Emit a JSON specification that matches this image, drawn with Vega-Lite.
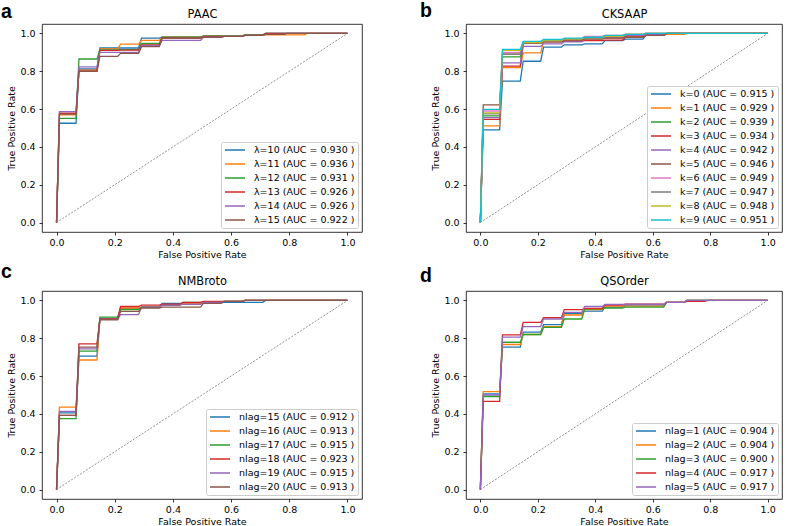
{
"$schema":"https://vega.github.io/schema/vega-lite/v6.json",
"background":"white",
"padding":{"left":0,"top":0,"right":0,"bottom":0},
"config":{
 "font":"DejaVu Sans",
 "view":{"stroke":"#000","strokeWidth":0.8},
 "axis":{"grid":false,"domain":false,"tickColor":"#000","tickSize":3,"tickWidth":0.8,"labelFont":"DejaVu Sans","labelFontSize":9.5,"labelColor":"#000","titleFont":"DejaVu Sans","titleFontSize":9.5,"titleFontWeight":"normal","titleColor":"#000"},
 "axisX":{"labelPadding":2.5,"titlePadding":2},
 "axisY":{"labelPadding":4,"titlePadding":3},
 "legend":{"orient":"bottom-right","offset":4,"padding":3,"fillColor":"#ffffff","strokeColor":"#cccccc","cornerRadius":2,"symbolType":"M-1,0H4","symbolSize":64,"symbolStrokeWidth":1.5,"labelFont":"DejaVu Sans","labelFontSize":9.5,"labelColor":"#000","labelOffset":20,"rowPadding":4,"labelLimit":300}
},
"datasets":{
"diag":[{"x":0,"y":0},{"x":1,"y":1}],
"pa":[
{"s":"λ=10 (AUC = 0.930 )","x":0,"y":0},{"s":"λ=10 (AUC = 0.930 )","x":0.01,"y":0.525},{"s":"λ=10 (AUC = 0.930 )","x":0.067,"y":0.525},{"s":"λ=10 (AUC = 0.930 )","x":0.077,"y":0.812},{"s":"λ=10 (AUC = 0.930 )","x":0.139,"y":0.812},{"s":"λ=10 (AUC = 0.930 )","x":0.149,"y":0.923},{"s":"λ=10 (AUC = 0.930 )","x":0.282,"y":0.923},{"s":"λ=10 (AUC = 0.930 )","x":0.292,"y":0.975},{"s":"λ=10 (AUC = 0.930 )","x":0.353,"y":0.975},{"s":"λ=10 (AUC = 0.930 )","x":0.363,"y":0.98},{"s":"λ=10 (AUC = 0.930 )","x":0.495,"y":0.98},{"s":"λ=10 (AUC = 0.930 )","x":0.505,"y":0.985},{"s":"λ=10 (AUC = 0.930 )","x":0.638,"y":0.985},{"s":"λ=10 (AUC = 0.930 )","x":0.648,"y":0.993},{"s":"λ=10 (AUC = 0.930 )","x":0.709,"y":0.993},{"s":"λ=10 (AUC = 0.930 )","x":0.719,"y":1},{"s":"λ=10 (AUC = 0.930 )","x":1,"y":1},
{"s":"λ=11 (AUC = 0.936 )","x":0,"y":0},{"s":"λ=11 (AUC = 0.936 )","x":0.01,"y":0.569},{"s":"λ=11 (AUC = 0.936 )","x":0.067,"y":0.569},{"s":"λ=11 (AUC = 0.936 )","x":0.077,"y":0.806},{"s":"λ=11 (AUC = 0.936 )","x":0.139,"y":0.806},{"s":"λ=11 (AUC = 0.936 )","x":0.149,"y":0.918},{"s":"λ=11 (AUC = 0.936 )","x":0.21,"y":0.918},{"s":"λ=11 (AUC = 0.936 )","x":0.22,"y":0.944},{"s":"λ=11 (AUC = 0.936 )","x":0.282,"y":0.944},{"s":"λ=11 (AUC = 0.936 )","x":0.292,"y":0.963},{"s":"λ=11 (AUC = 0.936 )","x":0.353,"y":0.963},{"s":"λ=11 (AUC = 0.936 )","x":0.363,"y":0.98},{"s":"λ=11 (AUC = 0.936 )","x":0.495,"y":0.98},{"s":"λ=11 (AUC = 0.936 )","x":0.505,"y":0.985},{"s":"λ=11 (AUC = 0.936 )","x":0.638,"y":0.985},{"s":"λ=11 (AUC = 0.936 )","x":0.648,"y":0.993},{"s":"λ=11 (AUC = 0.936 )","x":0.852,"y":0.993},{"s":"λ=11 (AUC = 0.936 )","x":0.862,"y":1},{"s":"λ=11 (AUC = 0.936 )","x":1,"y":1},
{"s":"λ=12 (AUC = 0.931 )","x":0,"y":0},{"s":"λ=12 (AUC = 0.931 )","x":0.01,"y":0.551},{"s":"λ=12 (AUC = 0.931 )","x":0.067,"y":0.551},{"s":"λ=12 (AUC = 0.931 )","x":0.077,"y":0.865},{"s":"λ=12 (AUC = 0.931 )","x":0.139,"y":0.865},{"s":"λ=12 (AUC = 0.931 )","x":0.149,"y":0.913},{"s":"λ=12 (AUC = 0.931 )","x":0.21,"y":0.913},{"s":"λ=12 (AUC = 0.931 )","x":0.22,"y":0.915},{"s":"λ=12 (AUC = 0.931 )","x":0.282,"y":0.915},{"s":"λ=12 (AUC = 0.931 )","x":0.292,"y":0.947},{"s":"λ=12 (AUC = 0.931 )","x":0.353,"y":0.947},{"s":"λ=12 (AUC = 0.931 )","x":0.363,"y":0.98},{"s":"λ=12 (AUC = 0.931 )","x":0.495,"y":0.98},{"s":"λ=12 (AUC = 0.931 )","x":0.505,"y":0.987},{"s":"λ=12 (AUC = 0.931 )","x":0.638,"y":0.987},{"s":"λ=12 (AUC = 0.931 )","x":0.648,"y":0.993},{"s":"λ=12 (AUC = 0.931 )","x":0.709,"y":0.993},{"s":"λ=12 (AUC = 0.931 )","x":0.719,"y":1},{"s":"λ=12 (AUC = 0.931 )","x":1,"y":1},
{"s":"λ=13 (AUC = 0.926 )","x":0,"y":0},{"s":"λ=13 (AUC = 0.926 )","x":0.01,"y":0.578},{"s":"λ=13 (AUC = 0.926 )","x":0.067,"y":0.578},{"s":"λ=13 (AUC = 0.926 )","x":0.077,"y":0.8},{"s":"λ=13 (AUC = 0.926 )","x":0.139,"y":0.8},{"s":"λ=13 (AUC = 0.926 )","x":0.149,"y":0.91},{"s":"λ=13 (AUC = 0.926 )","x":0.21,"y":0.91},{"s":"λ=13 (AUC = 0.926 )","x":0.22,"y":0.912},{"s":"λ=13 (AUC = 0.926 )","x":0.282,"y":0.912},{"s":"λ=13 (AUC = 0.926 )","x":0.292,"y":0.94},{"s":"λ=13 (AUC = 0.926 )","x":0.353,"y":0.94},{"s":"λ=13 (AUC = 0.926 )","x":0.363,"y":0.975},{"s":"λ=13 (AUC = 0.926 )","x":0.495,"y":0.975},{"s":"λ=13 (AUC = 0.926 )","x":0.505,"y":0.985},{"s":"λ=13 (AUC = 0.926 )","x":0.638,"y":0.985},{"s":"λ=13 (AUC = 0.926 )","x":0.648,"y":0.99},{"s":"λ=13 (AUC = 0.926 )","x":0.709,"y":0.99},{"s":"λ=13 (AUC = 0.926 )","x":0.719,"y":1},{"s":"λ=13 (AUC = 0.926 )","x":1,"y":1},
{"s":"λ=14 (AUC = 0.926 )","x":0,"y":0},{"s":"λ=14 (AUC = 0.926 )","x":0.01,"y":0.587},{"s":"λ=14 (AUC = 0.926 )","x":0.067,"y":0.587},{"s":"λ=14 (AUC = 0.926 )","x":0.077,"y":0.823},{"s":"λ=14 (AUC = 0.926 )","x":0.139,"y":0.823},{"s":"λ=14 (AUC = 0.926 )","x":0.149,"y":0.9},{"s":"λ=14 (AUC = 0.926 )","x":0.282,"y":0.9},{"s":"λ=14 (AUC = 0.926 )","x":0.292,"y":0.935},{"s":"λ=14 (AUC = 0.926 )","x":0.353,"y":0.935},{"s":"λ=14 (AUC = 0.926 )","x":0.363,"y":0.963},{"s":"λ=14 (AUC = 0.926 )","x":0.495,"y":0.963},{"s":"λ=14 (AUC = 0.926 )","x":0.505,"y":0.98},{"s":"λ=14 (AUC = 0.926 )","x":0.566,"y":0.98},{"s":"λ=14 (AUC = 0.926 )","x":0.576,"y":0.985},{"s":"λ=14 (AUC = 0.926 )","x":0.638,"y":0.985},{"s":"λ=14 (AUC = 0.926 )","x":0.648,"y":0.99},{"s":"λ=14 (AUC = 0.926 )","x":0.709,"y":0.99},{"s":"λ=14 (AUC = 0.926 )","x":0.719,"y":0.995},{"s":"λ=14 (AUC = 0.926 )","x":0.781,"y":0.995},{"s":"λ=14 (AUC = 0.926 )","x":0.791,"y":1},{"s":"λ=14 (AUC = 0.926 )","x":1,"y":1},
{"s":"λ=15 (AUC = 0.922 )","x":0,"y":0},{"s":"λ=15 (AUC = 0.922 )","x":0.01,"y":0.573},{"s":"λ=15 (AUC = 0.922 )","x":0.067,"y":0.573},{"s":"λ=15 (AUC = 0.922 )","x":0.077,"y":0.8},{"s":"λ=15 (AUC = 0.922 )","x":0.139,"y":0.8},{"s":"λ=15 (AUC = 0.922 )","x":0.149,"y":0.879},{"s":"λ=15 (AUC = 0.922 )","x":0.21,"y":0.879},{"s":"λ=15 (AUC = 0.922 )","x":0.22,"y":0.895},{"s":"λ=15 (AUC = 0.922 )","x":0.282,"y":0.895},{"s":"λ=15 (AUC = 0.922 )","x":0.292,"y":0.93},{"s":"λ=15 (AUC = 0.922 )","x":0.353,"y":0.93},{"s":"λ=15 (AUC = 0.922 )","x":0.363,"y":0.976},{"s":"λ=15 (AUC = 0.922 )","x":0.495,"y":0.976},{"s":"λ=15 (AUC = 0.922 )","x":0.505,"y":0.98},{"s":"λ=15 (AUC = 0.922 )","x":0.566,"y":0.98},{"s":"λ=15 (AUC = 0.922 )","x":0.576,"y":0.985},{"s":"λ=15 (AUC = 0.922 )","x":0.638,"y":0.985},{"s":"λ=15 (AUC = 0.922 )","x":0.648,"y":0.99},{"s":"λ=15 (AUC = 0.922 )","x":0.709,"y":0.99},{"s":"λ=15 (AUC = 0.922 )","x":0.719,"y":0.995},{"s":"λ=15 (AUC = 0.922 )","x":0.781,"y":0.995},{"s":"λ=15 (AUC = 0.922 )","x":0.791,"y":1},{"s":"λ=15 (AUC = 0.922 )","x":1,"y":1}
],
"pb":[
{"s":"k=0 (AUC = 0.915 )","x":0,"y":0},{"s":"k=0 (AUC = 0.915 )","x":0.01,"y":0.49},{"s":"k=0 (AUC = 0.915 )","x":0.067,"y":0.49},{"s":"k=0 (AUC = 0.915 )","x":0.077,"y":0.748},{"s":"k=0 (AUC = 0.915 )","x":0.139,"y":0.748},{"s":"k=0 (AUC = 0.915 )","x":0.149,"y":0.853},{"s":"k=0 (AUC = 0.915 )","x":0.21,"y":0.853},{"s":"k=0 (AUC = 0.915 )","x":0.22,"y":0.928},{"s":"k=0 (AUC = 0.915 )","x":0.282,"y":0.928},{"s":"k=0 (AUC = 0.915 )","x":0.292,"y":0.94},{"s":"k=0 (AUC = 0.915 )","x":0.353,"y":0.94},{"s":"k=0 (AUC = 0.915 )","x":0.363,"y":0.945},{"s":"k=0 (AUC = 0.915 )","x":0.424,"y":0.945},{"s":"k=0 (AUC = 0.915 )","x":0.434,"y":0.962},{"s":"k=0 (AUC = 0.915 )","x":0.495,"y":0.962},{"s":"k=0 (AUC = 0.915 )","x":0.505,"y":0.97},{"s":"k=0 (AUC = 0.915 )","x":0.566,"y":0.97},{"s":"k=0 (AUC = 0.915 )","x":0.576,"y":0.99},{"s":"k=0 (AUC = 0.915 )","x":0.638,"y":0.99},{"s":"k=0 (AUC = 0.915 )","x":0.648,"y":1},{"s":"k=0 (AUC = 0.915 )","x":1,"y":1},
{"s":"k=1 (AUC = 0.929 )","x":0,"y":0},{"s":"k=1 (AUC = 0.929 )","x":0.01,"y":0.511},{"s":"k=1 (AUC = 0.929 )","x":0.067,"y":0.511},{"s":"k=1 (AUC = 0.929 )","x":0.077,"y":0.82},{"s":"k=1 (AUC = 0.929 )","x":0.139,"y":0.82},{"s":"k=1 (AUC = 0.929 )","x":0.149,"y":0.897},{"s":"k=1 (AUC = 0.929 )","x":0.21,"y":0.897},{"s":"k=1 (AUC = 0.929 )","x":0.22,"y":0.958},{"s":"k=1 (AUC = 0.929 )","x":0.282,"y":0.958},{"s":"k=1 (AUC = 0.929 )","x":0.292,"y":0.962},{"s":"k=1 (AUC = 0.929 )","x":0.353,"y":0.962},{"s":"k=1 (AUC = 0.929 )","x":0.363,"y":0.972},{"s":"k=1 (AUC = 0.929 )","x":0.424,"y":0.972},{"s":"k=1 (AUC = 0.929 )","x":0.434,"y":0.975},{"s":"k=1 (AUC = 0.929 )","x":0.495,"y":0.975},{"s":"k=1 (AUC = 0.929 )","x":0.505,"y":0.985},{"s":"k=1 (AUC = 0.929 )","x":0.566,"y":0.985},{"s":"k=1 (AUC = 0.929 )","x":0.576,"y":0.99},{"s":"k=1 (AUC = 0.929 )","x":0.638,"y":0.99},{"s":"k=1 (AUC = 0.929 )","x":0.648,"y":0.995},{"s":"k=1 (AUC = 0.929 )","x":0.709,"y":0.995},{"s":"k=1 (AUC = 0.929 )","x":0.719,"y":1},{"s":"k=1 (AUC = 0.929 )","x":1,"y":1},
{"s":"k=2 (AUC = 0.939 )","x":0,"y":0},{"s":"k=2 (AUC = 0.939 )","x":0.01,"y":0.564},{"s":"k=2 (AUC = 0.939 )","x":0.067,"y":0.564},{"s":"k=2 (AUC = 0.939 )","x":0.077,"y":0.876},{"s":"k=2 (AUC = 0.939 )","x":0.139,"y":0.876},{"s":"k=2 (AUC = 0.939 )","x":0.149,"y":0.95},{"s":"k=2 (AUC = 0.939 )","x":0.21,"y":0.95},{"s":"k=2 (AUC = 0.939 )","x":0.22,"y":0.962},{"s":"k=2 (AUC = 0.939 )","x":0.282,"y":0.962},{"s":"k=2 (AUC = 0.939 )","x":0.292,"y":0.97},{"s":"k=2 (AUC = 0.939 )","x":0.353,"y":0.97},{"s":"k=2 (AUC = 0.939 )","x":0.363,"y":0.975},{"s":"k=2 (AUC = 0.939 )","x":0.424,"y":0.975},{"s":"k=2 (AUC = 0.939 )","x":0.434,"y":0.98},{"s":"k=2 (AUC = 0.939 )","x":0.495,"y":0.98},{"s":"k=2 (AUC = 0.939 )","x":0.505,"y":0.99},{"s":"k=2 (AUC = 0.939 )","x":0.566,"y":0.99},{"s":"k=2 (AUC = 0.939 )","x":0.576,"y":0.995},{"s":"k=2 (AUC = 0.939 )","x":0.638,"y":0.995},{"s":"k=2 (AUC = 0.939 )","x":0.648,"y":1},{"s":"k=2 (AUC = 0.939 )","x":1,"y":1},
{"s":"k=3 (AUC = 0.934 )","x":0,"y":0},{"s":"k=3 (AUC = 0.934 )","x":0.01,"y":0.546},{"s":"k=3 (AUC = 0.934 )","x":0.067,"y":0.546},{"s":"k=3 (AUC = 0.934 )","x":0.077,"y":0.827},{"s":"k=3 (AUC = 0.934 )","x":0.139,"y":0.827},{"s":"k=3 (AUC = 0.934 )","x":0.149,"y":0.948},{"s":"k=3 (AUC = 0.934 )","x":0.21,"y":0.948},{"s":"k=3 (AUC = 0.934 )","x":0.22,"y":0.955},{"s":"k=3 (AUC = 0.934 )","x":0.282,"y":0.955},{"s":"k=3 (AUC = 0.934 )","x":0.292,"y":0.958},{"s":"k=3 (AUC = 0.934 )","x":0.353,"y":0.958},{"s":"k=3 (AUC = 0.934 )","x":0.363,"y":0.962},{"s":"k=3 (AUC = 0.934 )","x":0.424,"y":0.962},{"s":"k=3 (AUC = 0.934 )","x":0.434,"y":0.965},{"s":"k=3 (AUC = 0.934 )","x":0.495,"y":0.965},{"s":"k=3 (AUC = 0.934 )","x":0.505,"y":0.98},{"s":"k=3 (AUC = 0.934 )","x":0.566,"y":0.98},{"s":"k=3 (AUC = 0.934 )","x":0.576,"y":0.99},{"s":"k=3 (AUC = 0.934 )","x":0.638,"y":0.99},{"s":"k=3 (AUC = 0.934 )","x":0.648,"y":1},{"s":"k=3 (AUC = 0.934 )","x":1,"y":1},
{"s":"k=4 (AUC = 0.942 )","x":0,"y":0},{"s":"k=4 (AUC = 0.942 )","x":0.01,"y":0.555},{"s":"k=4 (AUC = 0.942 )","x":0.067,"y":0.555},{"s":"k=4 (AUC = 0.942 )","x":0.077,"y":0.844},{"s":"k=4 (AUC = 0.942 )","x":0.139,"y":0.844},{"s":"k=4 (AUC = 0.942 )","x":0.149,"y":0.932},{"s":"k=4 (AUC = 0.942 )","x":0.21,"y":0.932},{"s":"k=4 (AUC = 0.942 )","x":0.22,"y":0.945},{"s":"k=4 (AUC = 0.942 )","x":0.282,"y":0.945},{"s":"k=4 (AUC = 0.942 )","x":0.292,"y":0.955},{"s":"k=4 (AUC = 0.942 )","x":0.353,"y":0.955},{"s":"k=4 (AUC = 0.942 )","x":0.363,"y":0.975},{"s":"k=4 (AUC = 0.942 )","x":0.424,"y":0.975},{"s":"k=4 (AUC = 0.942 )","x":0.434,"y":0.98},{"s":"k=4 (AUC = 0.942 )","x":0.495,"y":0.98},{"s":"k=4 (AUC = 0.942 )","x":0.505,"y":0.99},{"s":"k=4 (AUC = 0.942 )","x":0.566,"y":0.99},{"s":"k=4 (AUC = 0.942 )","x":0.576,"y":0.995},{"s":"k=4 (AUC = 0.942 )","x":0.638,"y":0.995},{"s":"k=4 (AUC = 0.942 )","x":0.648,"y":1},{"s":"k=4 (AUC = 0.942 )","x":1,"y":1},
{"s":"k=5 (AUC = 0.946 )","x":0,"y":0},{"s":"k=5 (AUC = 0.946 )","x":0.01,"y":0.622},{"s":"k=5 (AUC = 0.946 )","x":0.067,"y":0.622},{"s":"k=5 (AUC = 0.946 )","x":0.077,"y":0.89},{"s":"k=5 (AUC = 0.946 )","x":0.139,"y":0.89},{"s":"k=5 (AUC = 0.946 )","x":0.149,"y":0.948},{"s":"k=5 (AUC = 0.946 )","x":0.21,"y":0.948},{"s":"k=5 (AUC = 0.946 )","x":0.22,"y":0.955},{"s":"k=5 (AUC = 0.946 )","x":0.282,"y":0.955},{"s":"k=5 (AUC = 0.946 )","x":0.292,"y":0.965},{"s":"k=5 (AUC = 0.946 )","x":0.353,"y":0.965},{"s":"k=5 (AUC = 0.946 )","x":0.363,"y":0.97},{"s":"k=5 (AUC = 0.946 )","x":0.424,"y":0.97},{"s":"k=5 (AUC = 0.946 )","x":0.434,"y":0.975},{"s":"k=5 (AUC = 0.946 )","x":0.495,"y":0.975},{"s":"k=5 (AUC = 0.946 )","x":0.505,"y":0.98},{"s":"k=5 (AUC = 0.946 )","x":0.566,"y":0.98},{"s":"k=5 (AUC = 0.946 )","x":0.576,"y":0.99},{"s":"k=5 (AUC = 0.946 )","x":0.638,"y":0.99},{"s":"k=5 (AUC = 0.946 )","x":0.648,"y":1},{"s":"k=5 (AUC = 0.946 )","x":1,"y":1},
{"s":"k=6 (AUC = 0.949 )","x":0,"y":0},{"s":"k=6 (AUC = 0.949 )","x":0.01,"y":0.59},{"s":"k=6 (AUC = 0.949 )","x":0.067,"y":0.59},{"s":"k=6 (AUC = 0.949 )","x":0.077,"y":0.9},{"s":"k=6 (AUC = 0.949 )","x":0.139,"y":0.9},{"s":"k=6 (AUC = 0.949 )","x":0.149,"y":0.955},{"s":"k=6 (AUC = 0.949 )","x":0.21,"y":0.955},{"s":"k=6 (AUC = 0.949 )","x":0.22,"y":0.962},{"s":"k=6 (AUC = 0.949 )","x":0.282,"y":0.962},{"s":"k=6 (AUC = 0.949 )","x":0.292,"y":0.972},{"s":"k=6 (AUC = 0.949 )","x":0.353,"y":0.972},{"s":"k=6 (AUC = 0.949 )","x":0.363,"y":0.985},{"s":"k=6 (AUC = 0.949 )","x":0.424,"y":0.985},{"s":"k=6 (AUC = 0.949 )","x":0.434,"y":0.99},{"s":"k=6 (AUC = 0.949 )","x":0.495,"y":0.99},{"s":"k=6 (AUC = 0.949 )","x":0.505,"y":0.995},{"s":"k=6 (AUC = 0.949 )","x":0.566,"y":0.995},{"s":"k=6 (AUC = 0.949 )","x":0.576,"y":1},{"s":"k=6 (AUC = 0.949 )","x":1,"y":1},
{"s":"k=7 (AUC = 0.947 )","x":0,"y":0},{"s":"k=7 (AUC = 0.947 )","x":0.01,"y":0.575},{"s":"k=7 (AUC = 0.947 )","x":0.067,"y":0.575},{"s":"k=7 (AUC = 0.947 )","x":0.077,"y":0.89},{"s":"k=7 (AUC = 0.947 )","x":0.139,"y":0.89},{"s":"k=7 (AUC = 0.947 )","x":0.149,"y":0.952},{"s":"k=7 (AUC = 0.947 )","x":0.21,"y":0.952},{"s":"k=7 (AUC = 0.947 )","x":0.22,"y":0.962},{"s":"k=7 (AUC = 0.947 )","x":0.282,"y":0.962},{"s":"k=7 (AUC = 0.947 )","x":0.292,"y":0.97},{"s":"k=7 (AUC = 0.947 )","x":0.353,"y":0.97},{"s":"k=7 (AUC = 0.947 )","x":0.363,"y":0.975},{"s":"k=7 (AUC = 0.947 )","x":0.424,"y":0.975},{"s":"k=7 (AUC = 0.947 )","x":0.434,"y":0.985},{"s":"k=7 (AUC = 0.947 )","x":0.495,"y":0.985},{"s":"k=7 (AUC = 0.947 )","x":0.505,"y":0.995},{"s":"k=7 (AUC = 0.947 )","x":0.566,"y":0.995},{"s":"k=7 (AUC = 0.947 )","x":0.576,"y":1},{"s":"k=7 (AUC = 0.947 )","x":1,"y":1},
{"s":"k=8 (AUC = 0.948 )","x":0,"y":0},{"s":"k=8 (AUC = 0.948 )","x":0.01,"y":0.58},{"s":"k=8 (AUC = 0.948 )","x":0.067,"y":0.58},{"s":"k=8 (AUC = 0.948 )","x":0.077,"y":0.91},{"s":"k=8 (AUC = 0.948 )","x":0.139,"y":0.91},{"s":"k=8 (AUC = 0.948 )","x":0.149,"y":0.952},{"s":"k=8 (AUC = 0.948 )","x":0.21,"y":0.952},{"s":"k=8 (AUC = 0.948 )","x":0.22,"y":0.962},{"s":"k=8 (AUC = 0.948 )","x":0.282,"y":0.962},{"s":"k=8 (AUC = 0.948 )","x":0.292,"y":0.972},{"s":"k=8 (AUC = 0.948 )","x":0.353,"y":0.972},{"s":"k=8 (AUC = 0.948 )","x":0.363,"y":0.978},{"s":"k=8 (AUC = 0.948 )","x":0.424,"y":0.978},{"s":"k=8 (AUC = 0.948 )","x":0.434,"y":0.985},{"s":"k=8 (AUC = 0.948 )","x":0.495,"y":0.985},{"s":"k=8 (AUC = 0.948 )","x":0.505,"y":0.995},{"s":"k=8 (AUC = 0.948 )","x":0.566,"y":0.995},{"s":"k=8 (AUC = 0.948 )","x":0.576,"y":1},{"s":"k=8 (AUC = 0.948 )","x":1,"y":1},
{"s":"k=9 (AUC = 0.951 )","x":0,"y":0},{"s":"k=9 (AUC = 0.951 )","x":0.01,"y":0.599},{"s":"k=9 (AUC = 0.951 )","x":0.067,"y":0.599},{"s":"k=9 (AUC = 0.951 )","x":0.077,"y":0.916},{"s":"k=9 (AUC = 0.951 )","x":0.139,"y":0.916},{"s":"k=9 (AUC = 0.951 )","x":0.149,"y":0.958},{"s":"k=9 (AUC = 0.951 )","x":0.21,"y":0.958},{"s":"k=9 (AUC = 0.951 )","x":0.22,"y":0.968},{"s":"k=9 (AUC = 0.951 )","x":0.282,"y":0.968},{"s":"k=9 (AUC = 0.951 )","x":0.292,"y":0.975},{"s":"k=9 (AUC = 0.951 )","x":0.353,"y":0.975},{"s":"k=9 (AUC = 0.951 )","x":0.363,"y":0.98},{"s":"k=9 (AUC = 0.951 )","x":0.424,"y":0.98},{"s":"k=9 (AUC = 0.951 )","x":0.434,"y":0.99},{"s":"k=9 (AUC = 0.951 )","x":0.495,"y":0.99},{"s":"k=9 (AUC = 0.951 )","x":0.505,"y":0.995},{"s":"k=9 (AUC = 0.951 )","x":0.566,"y":0.995},{"s":"k=9 (AUC = 0.951 )","x":0.576,"y":1},{"s":"k=9 (AUC = 0.951 )","x":1,"y":1}
],
"pc":[
{"s":"nlag=15 (AUC = 0.912 )","x":0,"y":0},{"s":"nlag=15 (AUC = 0.912 )","x":0.01,"y":0.405},{"s":"nlag=15 (AUC = 0.912 )","x":0.067,"y":0.405},{"s":"nlag=15 (AUC = 0.912 )","x":0.077,"y":0.706},{"s":"nlag=15 (AUC = 0.912 )","x":0.139,"y":0.706},{"s":"nlag=15 (AUC = 0.912 )","x":0.149,"y":0.905},{"s":"nlag=15 (AUC = 0.912 )","x":0.21,"y":0.905},{"s":"nlag=15 (AUC = 0.912 )","x":0.22,"y":0.958},{"s":"nlag=15 (AUC = 0.912 )","x":0.282,"y":0.958},{"s":"nlag=15 (AUC = 0.912 )","x":0.292,"y":0.965},{"s":"nlag=15 (AUC = 0.912 )","x":0.353,"y":0.965},{"s":"nlag=15 (AUC = 0.912 )","x":0.363,"y":0.985},{"s":"nlag=15 (AUC = 0.912 )","x":0.495,"y":0.985},{"s":"nlag=15 (AUC = 0.912 )","x":0.505,"y":0.99},{"s":"nlag=15 (AUC = 0.912 )","x":0.709,"y":0.99},{"s":"nlag=15 (AUC = 0.912 )","x":0.719,"y":1},{"s":"nlag=15 (AUC = 0.912 )","x":1,"y":1},
{"s":"nlag=16 (AUC = 0.913 )","x":0,"y":0},{"s":"nlag=16 (AUC = 0.913 )","x":0.01,"y":0.436},{"s":"nlag=16 (AUC = 0.913 )","x":0.067,"y":0.436},{"s":"nlag=16 (AUC = 0.913 )","x":0.077,"y":0.685},{"s":"nlag=16 (AUC = 0.913 )","x":0.139,"y":0.685},{"s":"nlag=16 (AUC = 0.913 )","x":0.149,"y":0.9},{"s":"nlag=16 (AUC = 0.913 )","x":0.21,"y":0.9},{"s":"nlag=16 (AUC = 0.913 )","x":0.22,"y":0.96},{"s":"nlag=16 (AUC = 0.913 )","x":0.282,"y":0.96},{"s":"nlag=16 (AUC = 0.913 )","x":0.292,"y":0.965},{"s":"nlag=16 (AUC = 0.913 )","x":0.353,"y":0.965},{"s":"nlag=16 (AUC = 0.913 )","x":0.363,"y":0.975},{"s":"nlag=16 (AUC = 0.913 )","x":0.424,"y":0.975},{"s":"nlag=16 (AUC = 0.913 )","x":0.434,"y":0.985},{"s":"nlag=16 (AUC = 0.913 )","x":0.495,"y":0.985},{"s":"nlag=16 (AUC = 0.913 )","x":0.505,"y":0.99},{"s":"nlag=16 (AUC = 0.913 )","x":0.566,"y":0.99},{"s":"nlag=16 (AUC = 0.913 )","x":0.576,"y":0.995},{"s":"nlag=16 (AUC = 0.913 )","x":0.638,"y":0.995},{"s":"nlag=16 (AUC = 0.913 )","x":0.648,"y":1},{"s":"nlag=16 (AUC = 0.913 )","x":1,"y":1},
{"s":"nlag=17 (AUC = 0.915 )","x":0,"y":0},{"s":"nlag=17 (AUC = 0.915 )","x":0.01,"y":0.375},{"s":"nlag=17 (AUC = 0.915 )","x":0.067,"y":0.375},{"s":"nlag=17 (AUC = 0.915 )","x":0.077,"y":0.732},{"s":"nlag=17 (AUC = 0.915 )","x":0.139,"y":0.732},{"s":"nlag=17 (AUC = 0.915 )","x":0.149,"y":0.912},{"s":"nlag=17 (AUC = 0.915 )","x":0.21,"y":0.912},{"s":"nlag=17 (AUC = 0.915 )","x":0.22,"y":0.951},{"s":"nlag=17 (AUC = 0.915 )","x":0.282,"y":0.951},{"s":"nlag=17 (AUC = 0.915 )","x":0.292,"y":0.965},{"s":"nlag=17 (AUC = 0.915 )","x":0.353,"y":0.965},{"s":"nlag=17 (AUC = 0.915 )","x":0.363,"y":0.975},{"s":"nlag=17 (AUC = 0.915 )","x":0.424,"y":0.975},{"s":"nlag=17 (AUC = 0.915 )","x":0.434,"y":0.99},{"s":"nlag=17 (AUC = 0.915 )","x":0.566,"y":0.99},{"s":"nlag=17 (AUC = 0.915 )","x":0.576,"y":0.995},{"s":"nlag=17 (AUC = 0.915 )","x":0.638,"y":0.995},{"s":"nlag=17 (AUC = 0.915 )","x":0.648,"y":1},{"s":"nlag=17 (AUC = 0.915 )","x":1,"y":1},
{"s":"nlag=18 (AUC = 0.923 )","x":0,"y":0},{"s":"nlag=18 (AUC = 0.923 )","x":0.01,"y":0.392},{"s":"nlag=18 (AUC = 0.923 )","x":0.067,"y":0.392},{"s":"nlag=18 (AUC = 0.923 )","x":0.077,"y":0.77},{"s":"nlag=18 (AUC = 0.923 )","x":0.139,"y":0.77},{"s":"nlag=18 (AUC = 0.923 )","x":0.149,"y":0.902},{"s":"nlag=18 (AUC = 0.923 )","x":0.21,"y":0.902},{"s":"nlag=18 (AUC = 0.923 )","x":0.22,"y":0.968},{"s":"nlag=18 (AUC = 0.923 )","x":0.282,"y":0.968},{"s":"nlag=18 (AUC = 0.923 )","x":0.292,"y":0.975},{"s":"nlag=18 (AUC = 0.923 )","x":0.353,"y":0.975},{"s":"nlag=18 (AUC = 0.923 )","x":0.363,"y":0.98},{"s":"nlag=18 (AUC = 0.923 )","x":0.424,"y":0.98},{"s":"nlag=18 (AUC = 0.923 )","x":0.434,"y":0.99},{"s":"nlag=18 (AUC = 0.923 )","x":0.495,"y":0.99},{"s":"nlag=18 (AUC = 0.923 )","x":0.505,"y":0.995},{"s":"nlag=18 (AUC = 0.923 )","x":0.638,"y":0.995},{"s":"nlag=18 (AUC = 0.923 )","x":0.648,"y":1},{"s":"nlag=18 (AUC = 0.923 )","x":1,"y":1},
{"s":"nlag=19 (AUC = 0.915 )","x":0,"y":0},{"s":"nlag=19 (AUC = 0.915 )","x":0.01,"y":0.413},{"s":"nlag=19 (AUC = 0.915 )","x":0.067,"y":0.413},{"s":"nlag=19 (AUC = 0.915 )","x":0.077,"y":0.744},{"s":"nlag=19 (AUC = 0.915 )","x":0.139,"y":0.744},{"s":"nlag=19 (AUC = 0.915 )","x":0.149,"y":0.9},{"s":"nlag=19 (AUC = 0.915 )","x":0.21,"y":0.9},{"s":"nlag=19 (AUC = 0.915 )","x":0.22,"y":0.925},{"s":"nlag=19 (AUC = 0.915 )","x":0.282,"y":0.925},{"s":"nlag=19 (AUC = 0.915 )","x":0.292,"y":0.965},{"s":"nlag=19 (AUC = 0.915 )","x":0.353,"y":0.965},{"s":"nlag=19 (AUC = 0.915 )","x":0.363,"y":0.975},{"s":"nlag=19 (AUC = 0.915 )","x":0.424,"y":0.975},{"s":"nlag=19 (AUC = 0.915 )","x":0.434,"y":0.98},{"s":"nlag=19 (AUC = 0.915 )","x":0.495,"y":0.98},{"s":"nlag=19 (AUC = 0.915 )","x":0.505,"y":0.99},{"s":"nlag=19 (AUC = 0.915 )","x":0.566,"y":0.99},{"s":"nlag=19 (AUC = 0.915 )","x":0.576,"y":0.995},{"s":"nlag=19 (AUC = 0.915 )","x":0.638,"y":0.995},{"s":"nlag=19 (AUC = 0.915 )","x":0.648,"y":1},{"s":"nlag=19 (AUC = 0.915 )","x":1,"y":1},
{"s":"nlag=20 (AUC = 0.913 )","x":0,"y":0},{"s":"nlag=20 (AUC = 0.913 )","x":0.01,"y":0.392},{"s":"nlag=20 (AUC = 0.913 )","x":0.067,"y":0.392},{"s":"nlag=20 (AUC = 0.913 )","x":0.077,"y":0.753},{"s":"nlag=20 (AUC = 0.913 )","x":0.139,"y":0.753},{"s":"nlag=20 (AUC = 0.913 )","x":0.149,"y":0.898},{"s":"nlag=20 (AUC = 0.913 )","x":0.21,"y":0.898},{"s":"nlag=20 (AUC = 0.913 )","x":0.22,"y":0.942},{"s":"nlag=20 (AUC = 0.913 )","x":0.282,"y":0.942},{"s":"nlag=20 (AUC = 0.913 )","x":0.292,"y":0.96},{"s":"nlag=20 (AUC = 0.913 )","x":0.353,"y":0.96},{"s":"nlag=20 (AUC = 0.913 )","x":0.363,"y":0.965},{"s":"nlag=20 (AUC = 0.913 )","x":0.495,"y":0.965},{"s":"nlag=20 (AUC = 0.913 )","x":0.505,"y":0.985},{"s":"nlag=20 (AUC = 0.913 )","x":0.566,"y":0.985},{"s":"nlag=20 (AUC = 0.913 )","x":0.576,"y":0.995},{"s":"nlag=20 (AUC = 0.913 )","x":0.638,"y":0.995},{"s":"nlag=20 (AUC = 0.913 )","x":0.648,"y":1},{"s":"nlag=20 (AUC = 0.913 )","x":1,"y":1}
],
"pd":[
{"s":"nlag=1 (AUC = 0.904 )","x":0,"y":0},{"s":"nlag=1 (AUC = 0.904 )","x":0.01,"y":0.506},{"s":"nlag=1 (AUC = 0.904 )","x":0.067,"y":0.506},{"s":"nlag=1 (AUC = 0.904 )","x":0.077,"y":0.753},{"s":"nlag=1 (AUC = 0.904 )","x":0.139,"y":0.753},{"s":"nlag=1 (AUC = 0.904 )","x":0.149,"y":0.832},{"s":"nlag=1 (AUC = 0.904 )","x":0.21,"y":0.832},{"s":"nlag=1 (AUC = 0.904 )","x":0.22,"y":0.872},{"s":"nlag=1 (AUC = 0.904 )","x":0.282,"y":0.872},{"s":"nlag=1 (AUC = 0.904 )","x":0.292,"y":0.93},{"s":"nlag=1 (AUC = 0.904 )","x":0.353,"y":0.93},{"s":"nlag=1 (AUC = 0.904 )","x":0.363,"y":0.944},{"s":"nlag=1 (AUC = 0.904 )","x":0.424,"y":0.944},{"s":"nlag=1 (AUC = 0.904 )","x":0.434,"y":0.965},{"s":"nlag=1 (AUC = 0.904 )","x":0.495,"y":0.965},{"s":"nlag=1 (AUC = 0.904 )","x":0.505,"y":0.975},{"s":"nlag=1 (AUC = 0.904 )","x":0.638,"y":0.975},{"s":"nlag=1 (AUC = 0.904 )","x":0.648,"y":0.99},{"s":"nlag=1 (AUC = 0.904 )","x":0.709,"y":0.99},{"s":"nlag=1 (AUC = 0.904 )","x":0.719,"y":1},{"s":"nlag=1 (AUC = 0.904 )","x":1,"y":1},
{"s":"nlag=2 (AUC = 0.904 )","x":0,"y":0},{"s":"nlag=2 (AUC = 0.904 )","x":0.01,"y":0.518},{"s":"nlag=2 (AUC = 0.904 )","x":0.067,"y":0.518},{"s":"nlag=2 (AUC = 0.904 )","x":0.077,"y":0.767},{"s":"nlag=2 (AUC = 0.904 )","x":0.139,"y":0.767},{"s":"nlag=2 (AUC = 0.904 )","x":0.149,"y":0.82},{"s":"nlag=2 (AUC = 0.904 )","x":0.21,"y":0.82},{"s":"nlag=2 (AUC = 0.904 )","x":0.22,"y":0.862},{"s":"nlag=2 (AUC = 0.904 )","x":0.282,"y":0.862},{"s":"nlag=2 (AUC = 0.904 )","x":0.292,"y":0.923},{"s":"nlag=2 (AUC = 0.904 )","x":0.353,"y":0.923},{"s":"nlag=2 (AUC = 0.904 )","x":0.363,"y":0.952},{"s":"nlag=2 (AUC = 0.904 )","x":0.424,"y":0.952},{"s":"nlag=2 (AUC = 0.904 )","x":0.434,"y":0.97},{"s":"nlag=2 (AUC = 0.904 )","x":0.638,"y":0.97},{"s":"nlag=2 (AUC = 0.904 )","x":0.648,"y":0.99},{"s":"nlag=2 (AUC = 0.904 )","x":0.709,"y":0.99},{"s":"nlag=2 (AUC = 0.904 )","x":0.719,"y":1},{"s":"nlag=2 (AUC = 0.904 )","x":1,"y":1},
{"s":"nlag=3 (AUC = 0.900 )","x":0,"y":0},{"s":"nlag=3 (AUC = 0.900 )","x":0.01,"y":0.492},{"s":"nlag=3 (AUC = 0.900 )","x":0.067,"y":0.492},{"s":"nlag=3 (AUC = 0.900 )","x":0.077,"y":0.779},{"s":"nlag=3 (AUC = 0.900 )","x":0.139,"y":0.779},{"s":"nlag=3 (AUC = 0.900 )","x":0.149,"y":0.82},{"s":"nlag=3 (AUC = 0.900 )","x":0.21,"y":0.82},{"s":"nlag=3 (AUC = 0.900 )","x":0.22,"y":0.858},{"s":"nlag=3 (AUC = 0.900 )","x":0.282,"y":0.858},{"s":"nlag=3 (AUC = 0.900 )","x":0.292,"y":0.902},{"s":"nlag=3 (AUC = 0.900 )","x":0.353,"y":0.902},{"s":"nlag=3 (AUC = 0.900 )","x":0.363,"y":0.955},{"s":"nlag=3 (AUC = 0.900 )","x":0.424,"y":0.955},{"s":"nlag=3 (AUC = 0.900 )","x":0.434,"y":0.96},{"s":"nlag=3 (AUC = 0.900 )","x":0.495,"y":0.96},{"s":"nlag=3 (AUC = 0.900 )","x":0.505,"y":0.965},{"s":"nlag=3 (AUC = 0.900 )","x":0.638,"y":0.965},{"s":"nlag=3 (AUC = 0.900 )","x":0.648,"y":0.99},{"s":"nlag=3 (AUC = 0.900 )","x":0.709,"y":0.99},{"s":"nlag=3 (AUC = 0.900 )","x":0.719,"y":1},{"s":"nlag=3 (AUC = 0.900 )","x":1,"y":1},
{"s":"nlag=4 (AUC = 0.917 )","x":0,"y":0},{"s":"nlag=4 (AUC = 0.917 )","x":0.01,"y":0.466},{"s":"nlag=4 (AUC = 0.917 )","x":0.067,"y":0.466},{"s":"nlag=4 (AUC = 0.917 )","x":0.077,"y":0.818},{"s":"nlag=4 (AUC = 0.917 )","x":0.139,"y":0.818},{"s":"nlag=4 (AUC = 0.917 )","x":0.149,"y":0.884},{"s":"nlag=4 (AUC = 0.917 )","x":0.21,"y":0.884},{"s":"nlag=4 (AUC = 0.917 )","x":0.22,"y":0.909},{"s":"nlag=4 (AUC = 0.917 )","x":0.282,"y":0.909},{"s":"nlag=4 (AUC = 0.917 )","x":0.292,"y":0.951},{"s":"nlag=4 (AUC = 0.917 )","x":0.353,"y":0.951},{"s":"nlag=4 (AUC = 0.917 )","x":0.363,"y":0.958},{"s":"nlag=4 (AUC = 0.917 )","x":0.424,"y":0.958},{"s":"nlag=4 (AUC = 0.917 )","x":0.434,"y":0.975},{"s":"nlag=4 (AUC = 0.917 )","x":0.495,"y":0.975},{"s":"nlag=4 (AUC = 0.917 )","x":0.505,"y":0.98},{"s":"nlag=4 (AUC = 0.917 )","x":0.638,"y":0.98},{"s":"nlag=4 (AUC = 0.917 )","x":0.648,"y":0.99},{"s":"nlag=4 (AUC = 0.917 )","x":0.709,"y":0.99},{"s":"nlag=4 (AUC = 0.917 )","x":0.719,"y":0.995},{"s":"nlag=4 (AUC = 0.917 )","x":0.781,"y":0.995},{"s":"nlag=4 (AUC = 0.917 )","x":0.791,"y":1},{"s":"nlag=4 (AUC = 0.917 )","x":1,"y":1},
{"s":"nlag=5 (AUC = 0.917 )","x":0,"y":0},{"s":"nlag=5 (AUC = 0.917 )","x":0.01,"y":0.5},{"s":"nlag=5 (AUC = 0.917 )","x":0.067,"y":0.5},{"s":"nlag=5 (AUC = 0.917 )","x":0.077,"y":0.806},{"s":"nlag=5 (AUC = 0.917 )","x":0.139,"y":0.806},{"s":"nlag=5 (AUC = 0.917 )","x":0.149,"y":0.862},{"s":"nlag=5 (AUC = 0.917 )","x":0.21,"y":0.862},{"s":"nlag=5 (AUC = 0.917 )","x":0.22,"y":0.902},{"s":"nlag=5 (AUC = 0.917 )","x":0.282,"y":0.902},{"s":"nlag=5 (AUC = 0.917 )","x":0.292,"y":0.937},{"s":"nlag=5 (AUC = 0.917 )","x":0.353,"y":0.937},{"s":"nlag=5 (AUC = 0.917 )","x":0.363,"y":0.968},{"s":"nlag=5 (AUC = 0.917 )","x":0.424,"y":0.968},{"s":"nlag=5 (AUC = 0.917 )","x":0.434,"y":0.979},{"s":"nlag=5 (AUC = 0.917 )","x":0.495,"y":0.979},{"s":"nlag=5 (AUC = 0.917 )","x":0.505,"y":0.98},{"s":"nlag=5 (AUC = 0.917 )","x":0.638,"y":0.98},{"s":"nlag=5 (AUC = 0.917 )","x":0.648,"y":0.99},{"s":"nlag=5 (AUC = 0.917 )","x":0.709,"y":0.99},{"s":"nlag=5 (AUC = 0.917 )","x":0.719,"y":1},{"s":"nlag=5 (AUC = 0.917 )","x":1,"y":1}
]
},
"columns":2,
"spacing":{"row":59,"column":104},
"bounds":"flush",
"resolve":{"scale":{"color":"independent"},"legend":{"color":"independent"}},
"concat":[
{
 "width":320,"height":208,
 "title":{"text":"a","anchor":"start","frame":"group","dx":-41,"offset":-29,"baseline":"alphabetic","align":"left","fontSize":19.5,"font":"Liberation Sans","fontWeight":"bold","color":"#000"},
 "layer":[
  {"data":{"name":"diag"},"mark":{"type":"line","color":"#444","strokeWidth":0.6,"strokeDash":[2,1.5]},
   "encoding":{"x":{"field":"x","type":"quantitative","scale":{"domain":[-0.05,1.05],"nice":false,"zero":false},"axis":{"orient":"top","title":"PAAC","labels":false,"ticks":false,"domain":false,"titleFontSize":11.4,"titlePadding":5}},
   "y":{"field":"y","type":"quantitative","scale":{"domain":[-0.05,1.05],"nice":false,"zero":false},"axis":{"values":[0,0.2,0.4,0.6,0.8,1],"format":".1f","title":"True Positive Rate"}}}},
  {"data":{"name":"pa"},"mark":{"type":"line","strokeWidth":1.3},
   "encoding":{"x":{"field":"x","type":"quantitative","scale":{"domain":[-0.05,1.05],"nice":false,"zero":false},"axis":{"values":[0,0.2,0.4,0.6,0.8,1],"format":".1f","title":"False Positive Rate"}},
   "y":{"field":"y","type":"quantitative","scale":{"domain":[-0.05,1.05],"nice":false,"zero":false},"axis":{"values":[0,0.2,0.4,0.6,0.8,1],"format":".1f","title":"True Positive Rate"}},
   "color":{"field":"s","type":"nominal","scale":{"domain":["λ=10 (AUC = 0.930 )","λ=11 (AUC = 0.936 )","λ=12 (AUC = 0.931 )","λ=13 (AUC = 0.926 )","λ=14 (AUC = 0.926 )","λ=15 (AUC = 0.922 )"],"range":["#1f77b4","#ff7f0e","#2ca02c","#d62728","#9467bd","#8c564b"]},"legend":{"title":null}}}}
 ],
 "resolve":{"axis":{"x":"independent"}}
},
{
 "width":316,"height":208,
 "title":{"text":"b","anchor":"start","frame":"group","dx":-46,"offset":-28,"baseline":"alphabetic","align":"left","fontSize":19.5,"font":"Liberation Sans","fontWeight":"bold","color":"#000"},
 "layer":[
  {"data":{"name":"diag"},"mark":{"type":"line","color":"#444","strokeWidth":0.6,"strokeDash":[2,1.5]},
   "encoding":{"x":{"field":"x","type":"quantitative","scale":{"domain":[-0.05,1.05],"nice":false,"zero":false},"axis":{"orient":"top","title":"CKSAAP","labels":false,"ticks":false,"domain":false,"titleFontSize":11.4,"titlePadding":5}},
   "y":{"field":"y","type":"quantitative","scale":{"domain":[-0.05,1.05],"nice":false,"zero":false},"axis":{"values":[0,0.2,0.4,0.6,0.8,1],"format":".1f","title":"True Positive Rate"}}}},
  {"data":{"name":"pb"},"mark":{"type":"line","strokeWidth":1.3},
   "encoding":{"x":{"field":"x","type":"quantitative","scale":{"domain":[-0.05,1.05],"nice":false,"zero":false},"axis":{"values":[0,0.2,0.4,0.6,0.8,1],"format":".1f","title":"False Positive Rate"}},
   "y":{"field":"y","type":"quantitative","scale":{"domain":[-0.05,1.05],"nice":false,"zero":false},"axis":{"values":[0,0.2,0.4,0.6,0.8,1],"format":".1f","title":"True Positive Rate"}},
   "color":{"field":"s","type":"nominal","scale":{"domain":["k=0 (AUC = 0.915 )","k=1 (AUC = 0.929 )","k=2 (AUC = 0.939 )","k=3 (AUC = 0.934 )","k=4 (AUC = 0.942 )","k=5 (AUC = 0.946 )","k=6 (AUC = 0.949 )","k=7 (AUC = 0.947 )","k=8 (AUC = 0.948 )","k=9 (AUC = 0.951 )"],"range":["#1f77b4","#ff7f0e","#2ca02c","#d62728","#9467bd","#8c564b","#e377c2","#7f7f7f","#bcbd22","#17becf"]},"legend":{"title":null}}}}
 ],
 "resolve":{"axis":{"x":"independent"}}
},
{
 "width":320,"height":208,
 "title":{"text":"c","anchor":"start","frame":"group","dx":-41,"offset":-22,"baseline":"alphabetic","align":"left","fontSize":19.5,"font":"Liberation Sans","fontWeight":"bold","color":"#000"},
 "layer":[
  {"data":{"name":"diag"},"mark":{"type":"line","color":"#444","strokeWidth":0.6,"strokeDash":[2,1.5]},
   "encoding":{"x":{"field":"x","type":"quantitative","scale":{"domain":[-0.05,1.05],"nice":false,"zero":false},"axis":{"orient":"top","title":"NMBroto","labels":false,"ticks":false,"domain":false,"titleFontSize":11.4,"titlePadding":5}},
   "y":{"field":"y","type":"quantitative","scale":{"domain":[-0.05,1.05],"nice":false,"zero":false},"axis":{"values":[0,0.2,0.4,0.6,0.8,1],"format":".1f","title":"True Positive Rate"}}}},
  {"data":{"name":"pc"},"mark":{"type":"line","strokeWidth":1.3},
   "encoding":{"x":{"field":"x","type":"quantitative","scale":{"domain":[-0.05,1.05],"nice":false,"zero":false},"axis":{"values":[0,0.2,0.4,0.6,0.8,1],"format":".1f","title":"False Positive Rate"}},
   "y":{"field":"y","type":"quantitative","scale":{"domain":[-0.05,1.05],"nice":false,"zero":false},"axis":{"values":[0,0.2,0.4,0.6,0.8,1],"format":".1f","title":"True Positive Rate"}},
   "color":{"field":"s","type":"nominal","scale":{"domain":["nlag=15 (AUC = 0.912 )","nlag=16 (AUC = 0.913 )","nlag=17 (AUC = 0.915 )","nlag=18 (AUC = 0.923 )","nlag=19 (AUC = 0.915 )","nlag=20 (AUC = 0.913 )"],"range":["#1f77b4","#ff7f0e","#2ca02c","#d62728","#9467bd","#8c564b"]},"legend":{"title":null}}}}
 ],
 "resolve":{"axis":{"x":"independent"}}
},
{
 "width":316,"height":208,
 "title":{"text":"d","anchor":"start","frame":"group","dx":-46,"offset":-26,"baseline":"alphabetic","align":"left","fontSize":19.5,"font":"Liberation Sans","fontWeight":"bold","color":"#000"},
 "layer":[
  {"data":{"name":"diag"},"mark":{"type":"line","color":"#444","strokeWidth":0.6,"strokeDash":[2,1.5]},
   "encoding":{"x":{"field":"x","type":"quantitative","scale":{"domain":[-0.05,1.05],"nice":false,"zero":false},"axis":{"orient":"top","title":"QSOrder","labels":false,"ticks":false,"domain":false,"titleFontSize":11.4,"titlePadding":5}},
   "y":{"field":"y","type":"quantitative","scale":{"domain":[-0.05,1.05],"nice":false,"zero":false},"axis":{"values":[0,0.2,0.4,0.6,0.8,1],"format":".1f","title":"True Positive Rate"}}}},
  {"data":{"name":"pd"},"mark":{"type":"line","strokeWidth":1.3},
   "encoding":{"x":{"field":"x","type":"quantitative","scale":{"domain":[-0.05,1.05],"nice":false,"zero":false},"axis":{"values":[0,0.2,0.4,0.6,0.8,1],"format":".1f","title":"False Positive Rate"}},
   "y":{"field":"y","type":"quantitative","scale":{"domain":[-0.05,1.05],"nice":false,"zero":false},"axis":{"values":[0,0.2,0.4,0.6,0.8,1],"format":".1f","title":"True Positive Rate"}},
   "color":{"field":"s","type":"nominal","scale":{"domain":["nlag=1 (AUC = 0.904 )","nlag=2 (AUC = 0.904 )","nlag=3 (AUC = 0.900 )","nlag=4 (AUC = 0.917 )","nlag=5 (AUC = 0.917 )"],"range":["#1f77b4","#ff7f0e","#2ca02c","#d62728","#9467bd"]},"legend":{"title":null}}}}
 ],
 "resolve":{"axis":{"x":"independent"}}
}
]
}
